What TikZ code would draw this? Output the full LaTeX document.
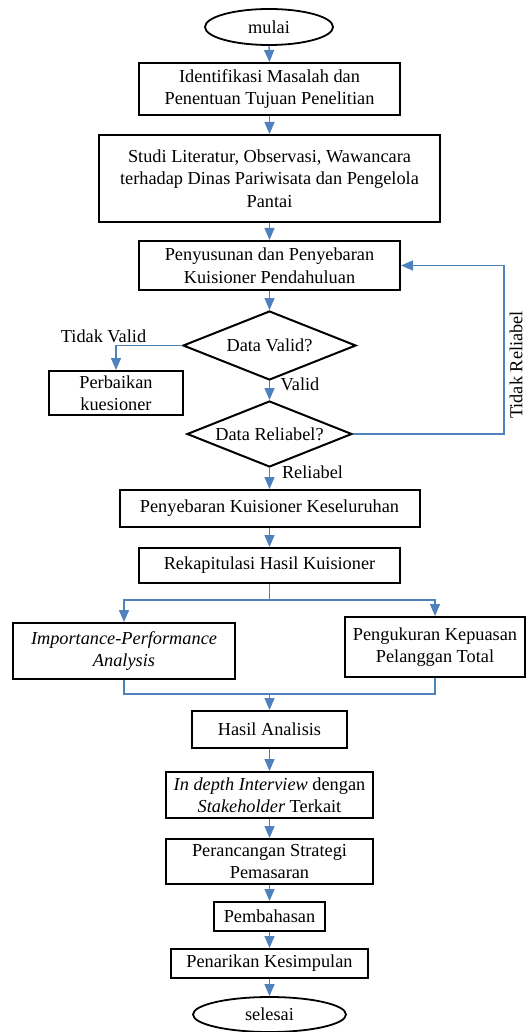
\documentclass[tikz,border=0pt]{standalone}
\usepackage{fontspec}
\setmainfont{Liberation Serif}
\usetikzlibrary{shapes.geometric,arrows.meta}
\definecolor{lineblue}{RGB}{79,129,189}
\begin{document}
\begin{tikzpicture}[x=1pt,y=-1pt,
  every node/.style={font=\fontsize{18.3}{22.5}\selectfont, align=center, inner sep=0pt},
  box/.style={draw=black, line width=2pt, rectangle},
  term/.style={draw=black, line width=1.8pt, ellipse},
  decide/.style={draw=black, line width=2pt, diamond, shape aspect=2.5},
  conn/.style={draw=lineblue, line width=1.4pt},
  arr/.style={conn, -{Triangle[width=10pt,length=12pt]}},
  lbl/.style={fill=none}
]
\fill[white] (0,0) rectangle (532,1032);
\useasboundingbox (0,0) rectangle (532,1032);

\node[term, minimum width=128pt, minimum height=36pt] (mulai) at (269,27) {mulai};
\node[box, minimum width=261pt, minimum height=52pt] (b1) at (269.5,89) {Identifikasi Masalah dan\\Penentuan Tujuan Penelitian};
\node[box, minimum width=341pt, minimum height=87pt] (b2) at (269.5,178.5) {Studi Literatur, Observasi, Wawancara\\terhadap Dinas Pariwisata dan Pengelola\\Pantai};
\node[box, minimum width=261pt, minimum height=49pt] (b3) at (269.5,265.5) {Penyusunan dan Penyebaran\\Kuisioner Pendahuluan};
\node[decide, minimum width=173pt, minimum height=69pt] (d1) at (269.5,345.5) {Data Valid?};
\node[box, minimum width=134pt, minimum height=44pt] (perb) at (116,393) {Perbaikan\\kuesioner};
\node[decide, minimum width=165pt, minimum height=66pt] (d2) at (269.5,434) {Data Reliabel?};
\node[box, minimum width=300pt, minimum height=37pt] (b4) at (269.5,508.5) {Penyebaran Kuisioner Keseluruhan};
\node[box, minimum width=261pt, minimum height=35pt] (b5) at (269.5,565.5) {Rekapitulasi Hasil Kuisioner};
\node[box, minimum width=222pt, minimum height=56pt] (ipa) at (124,651) {\itshape Importance-Performance\\\itshape Analysis};
\node[box, minimum width=180pt, minimum height=60pt] (pk) at (435,647) {Pengukuran Kepuasan\\Pelanggan Total};
\node[box, minimum width=155pt, minimum height=37pt] (hasil) at (269.5,729.5) {Hasil Analisis};
\node[box, minimum width=207pt, minimum height=46pt] (indepth) at (269.5,795) {\textit{In depth Interview} dengan\\\textit{Stakeholder} Terkait};
\node[box, minimum width=207pt, minimum height=45pt] (peranc) at (269.5,861.5) {Perancangan Strategi\\Pemasaran};
\node[box, minimum width=111pt, minimum height=29pt] (pemb) at (269.5,916.5) {Pembahasan};
\node[box, minimum width=197pt, minimum height=29pt] (penar) at (269.5,963.5) {Penarikan Kesimpulan};
\node[term, minimum width=153pt, minimum height=35pt] (selesai) at (269.5,1014.5) {selesai};

% labels
\node[lbl] (ltv) at (103.5,336) {Tidak Valid};
\node[lbl] (lv) at (300,384) {Valid};
\node[lbl] (lr) at (312.5,472) {Reliabel};
\node[lbl, rotate=90] (ltr) at (516,365) {Tidak Reliabel};

% connectors
\coordinate (rr) at (504,434);
\coordinate (split) at (269.5,600);
\coordinate (merge) at (269.5,694);

\draw[arr] (mulai.south) -- (b1.north);
\draw[arr] (b1.south) -- (b2.north);
\draw[arr] (b2.south) -- (b3.north);
\draw[arr] (b3.south) -- (d1.north);
\draw[arr] (d1.west) -| (perb.north);
\draw[arr] (d1.south) -- (d2.north);
\draw[arr] (d2.east) -- (rr) |- (b3.east);
\draw[arr] (d2.south) -- (b4.north);
\draw[arr] (b4.south) -- (b5.north);
\draw[conn] (b5.south) -- (split);
\draw[arr] (split) -| (ipa.north);
\draw[arr] (split) -| (pk.north);
\draw[conn] (ipa.south) |- (merge);
\draw[conn] (pk.south) |- (merge);
\draw[arr] (merge) -- (hasil.north);
\draw[arr] (hasil.south) -- (indepth.north);
\draw[arr] (indepth.south) -- (peranc.north);
\draw[arr] (peranc.south) -- (pemb.north);
\draw[arr] (pemb.south) -- (penar.north);
\draw[arr] (penar.south) -- (selesai.north);
\end{tikzpicture}
\end{document}
